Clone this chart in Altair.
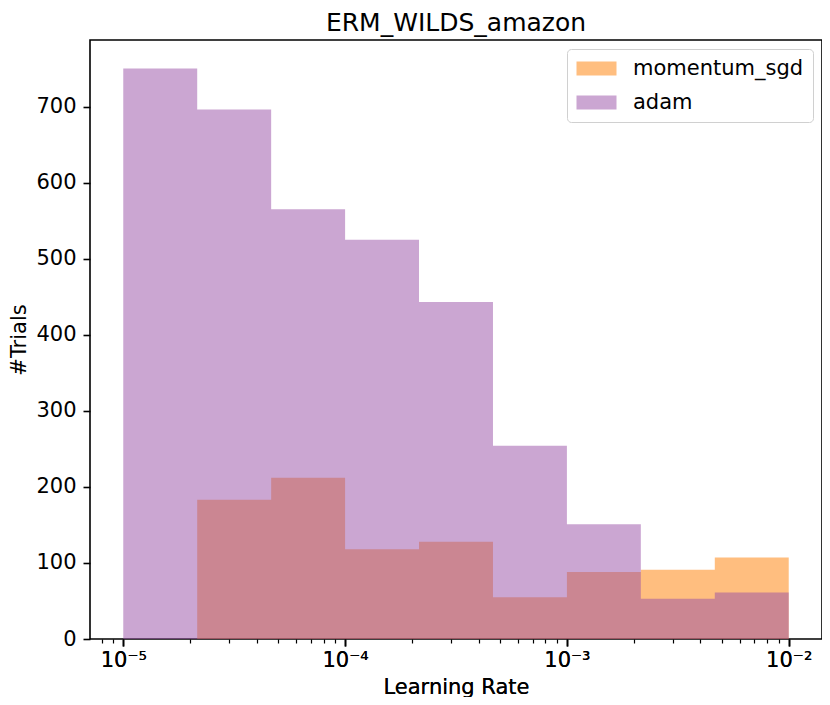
import altair as alt
import pandas as pd

# bin edges (log-spaced, 1/3 decade), counts per optimizer
bin_edges = [1e-5, 2.154e-5, 4.642e-5, 1e-4, 2.154e-4, 4.642e-4, 1e-3, 2.154e-3, 4.642e-3, 1e-2]
sgd_counts = [0, 183, 212, 118, 128, 55, 88, 91, 107]
adam_counts = [750, 696, 565, 525, 443, 254, 151, 53, 61]
optimizers = ["momentum_sgd", "adam"]
colors = ["#ff7d00", "#974da5"]

major_ticks = [1e-5, 1e-4, 1e-3, 1e-2]
major_labels = ["10⁻⁵", "10⁻⁴", "10⁻³", "10⁻²"]
minor_ticks = [8e-6, 9e-6] + [m * 10.0 ** e for e in (-5, -4, -3) for m in range(2, 10)]
y_ticks = [0, 100, 200, 300, 400, 500, 600, 700]


def step_table(name, counts):
    # step-after outline: each bin's left edge with its count, closed at the last edge
    out = [{"edge": bin_edges[i], "count": c, "optimizer": name} for i, c in enumerate(counts)]
    out.append({"edge": bin_edges[-1], "count": counts[-1], "optimizer": name})
    return pd.DataFrame(out)


sgd_df = step_table("momentum_sgd", sgd_counts)
adam_df = step_table("adam", adam_counts)
minor_df = pd.DataFrame({"v": minor_ticks})

xdom = [10 ** -5.15, 10 ** -1.85]
xscale = alt.Scale(type="log", domain=xdom, nice=False)
yscale = alt.Scale(domain=[0, 787.5], nice=False)
cscale = alt.Scale(domain=optimizers, range=colors)

label_expr = " : ".join(
    f"datum.value < {v * 1.5} ? '{l}'" for v, l in zip(major_ticks[:-1], major_labels[:-1])
) + f" : '{major_labels[-1]}'"

xaxis = alt.Axis(values=major_ticks, labelExpr=label_expr, title="Learning Rate",
                 orient="bottom", tickSize=7, tickWidth=1.6, labelPadding=3,
                 titlePadding=6, domain=False, grid=False)
yaxis = alt.Axis(values=y_ticks, title="#Trials", tickSize=7, tickWidth=1.6,
                 labelPadding=7, titlePadding=6, domain=False, grid=False)
legend = alt.Legend(title=None, orient="top-right", offset=9,
                    symbolType="M-1,-0.7H3V0.7H-1Z", symbolSize=400,
                    symbolOpacity=0.5, symbolStrokeWidth=0,
                    labelOffset=36, labelFontSize=21, labelLimit=400,
                    rowPadding=12, padding=9, strokeColor="#d0d0d0",
                    fillColor="white", cornerRadius=4)


def hist(d):
    return alt.Chart(d).mark_area(interpolate="step-after", opacity=0.5, strokeWidth=0).encode(
        x=alt.X("edge:Q", scale=xscale, axis=xaxis),
        y=alt.Y("count:Q", scale=yscale, axis=yaxis),
        color=alt.Color("optimizer:N", sort=optimizers, scale=cscale, legend=legend),
    )


minor = alt.Chart(minor_df).mark_rule(opacity=0).encode(
    x=alt.X("v:Q", scale=xscale,
            axis=alt.Axis(values=minor_ticks, labels=False, title=None, orient="bottom",
                          tickSize=4, tickWidth=1.2, domain=False, grid=False)),
)

chart = alt.layer(hist(sgd_df), hist(adam_df), minor).resolve_axis(x="independent").properties(
    width=814, height=689,
    autosize=alt.AutoSizeParams(type="fit", contains="padding"),
    padding={"left": 0, "right": 0, "top": 3, "bottom": 0},
    title=alt.TitleParams("ERM_WILDS_amazon", fontSize=25, fontWeight="normal",
                          offset=4, color="black", font="DejaVu Sans"),
).configure(font="DejaVu Sans").configure_view(
    stroke="black", strokeWidth=1.6
).configure_axis(
    labelFont="DejaVu Sans", titleFont="DejaVu Sans", labelFontSize=21, titleFontSize=21,
    labelColor="black", titleColor="black", tickColor="black", titleFontWeight="normal",
).configure_legend(labelFont="DejaVu Sans", labelColor="black")

chart.save("out.html", embed_options={"renderer": "svg", "actions": False})
